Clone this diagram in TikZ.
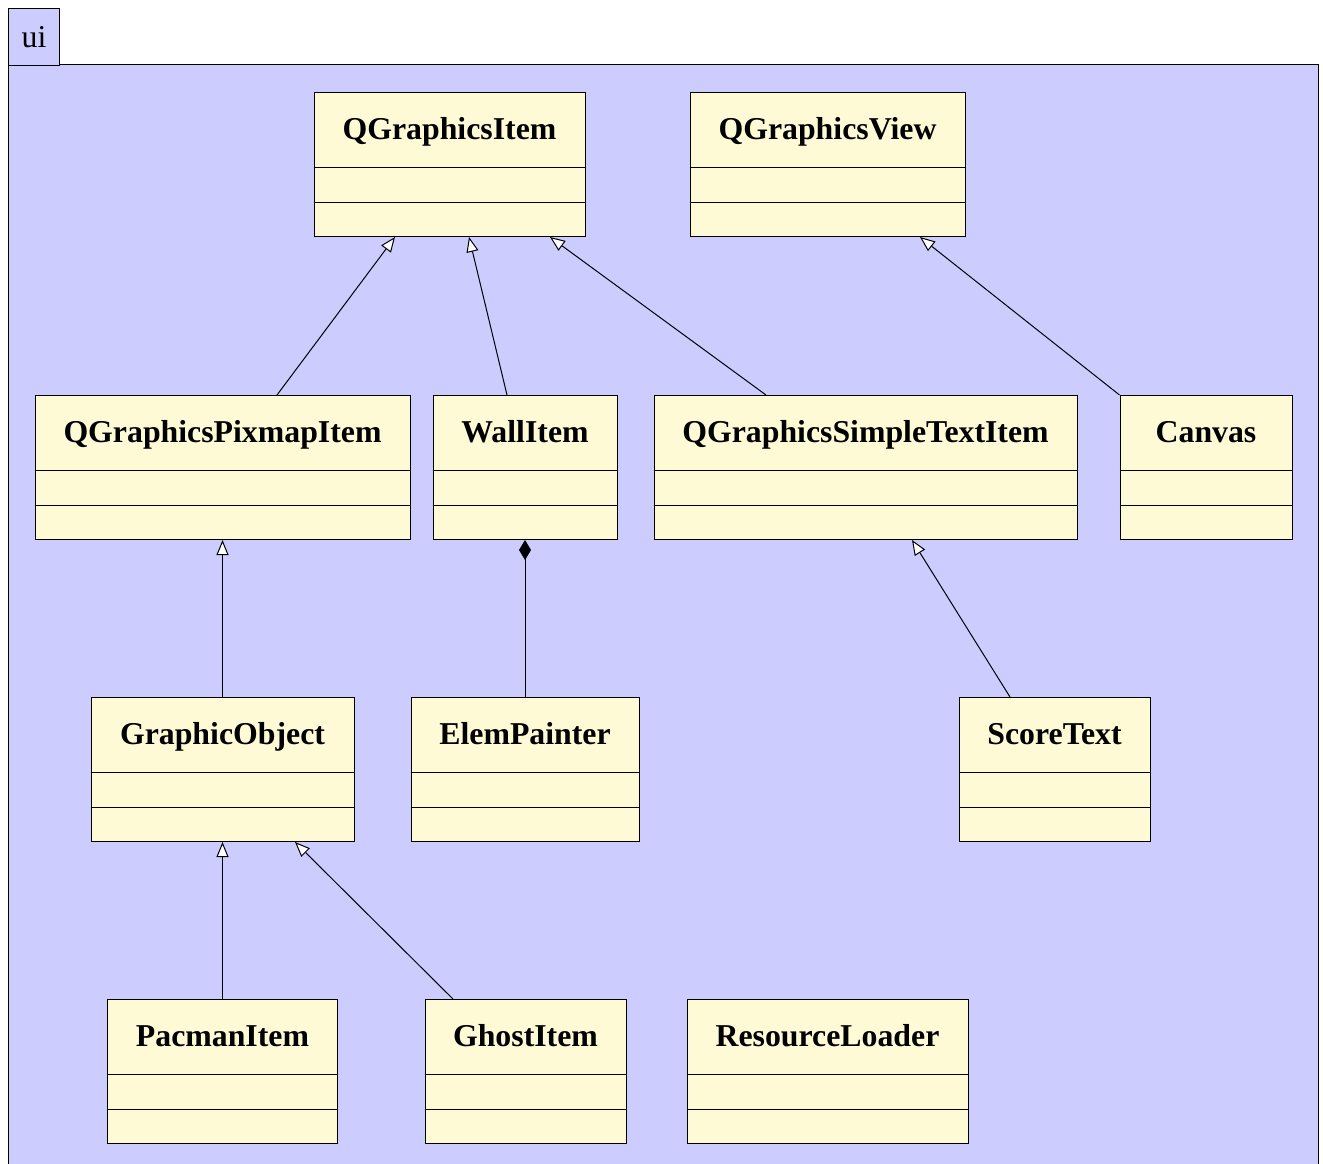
\documentclass[tikz,border=0pt]{standalone}
\usepackage{fontspec}
\setmainfont{Liberation Serif}
\usetikzlibrary{arrows.meta}
\definecolor{pkgblue}{RGB}{204,204,255}
\definecolor{classyellow}{RGB}{255,250,214}
\tikzset{
  classbox/.style={draw, fill=classyellow, line width=1pt, inner xsep=0pt, inner ysep=0pt,
    text height=47pt, text depth=97pt, font=\fontsize{31.8}{36}\selectfont\bfseries},
  inherit/.style={line width=1pt, -{Triangle[length=15pt,width=12pt,fill=white]}},
  composite/.style={line width=1pt, -{Diamond[length=20pt,width=12pt]}},
}
\begin{document}
\begin{tikzpicture}[x=1pt, y=-1pt]
        \useasboundingbox (0,0) rectangle (1323,1164);
        % package frame
        \draw[fill=pkgblue, line width=1pt] (8,65) rectangle (1318,1190);
        \node[draw, fill=pkgblue, line width=1pt, anchor=north west, minimum width=51pt,
          minimum height=57pt, inner sep=0pt, font=\fontsize{31.8}{36}\selectfont] (pkg) at (8,8) {ui};
        % classes
        \foreach \name/\cx/\top/\w/\title in {
            qgi/449.5/92/271/QGraphicsItem, qgv/827.5/92/275/QGraphicsView,
            pix/222.5/395/375/QGraphicsPixmapItem, wall/525/395/184/WallItem,
            qst/865.5/395/423/QGraphicsSimpleTextItem, canvas/1206/395/172/Canvas,
            gobj/222.5/697/263/GraphicObject, elem/525/697/228/ElemPainter,
            score/1054.5/697/191/ScoreText,
            pac/222.5/999/230/PacmanItem, ghost/525.5/999/201/GhostItem,
            res/827.5/999/281/ResourceLoader}{
            \node[classbox, minimum width=\w pt, anchor=north] (\name) at (\cx,\top) {\title};
            \draw[line width=1pt] ([yshift=-75pt]\name.north west) -- ([yshift=-75pt]\name.north east)
                ([yshift=-110pt]\name.north west) -- ([yshift=-110pt]\name.north east);
        }
        % relations
        \draw[inherit] ([xshift=54.5pt]pix.north) -- ([xshift=-54.5pt]qgi.south);
        \draw[inherit] ([xshift=-18pt]wall.north) -- ([xshift=19.5pt]qgi.south);
        \draw[inherit] ([xshift=-99.5pt]qst.north) -- ([xshift=100.5pt]qgi.south);
        \draw[inherit] (canvas.north west) -- ([xshift=92.5pt]qgv.south);
        \draw[inherit] (gobj.north) -- (pix.south);
        \draw[composite] (elem.north) -- (wall.south);
        \draw[inherit] ([xshift=-44.5pt]score.north) -- ([xshift=46.5pt]qst.south);
        \draw[inherit] (pac.north) -- (gobj.south);
        \draw[inherit] ([xshift=-72.5pt]ghost.north) -- ([xshift=72.5pt]gobj.south);
\end{tikzpicture}
\end{document}
